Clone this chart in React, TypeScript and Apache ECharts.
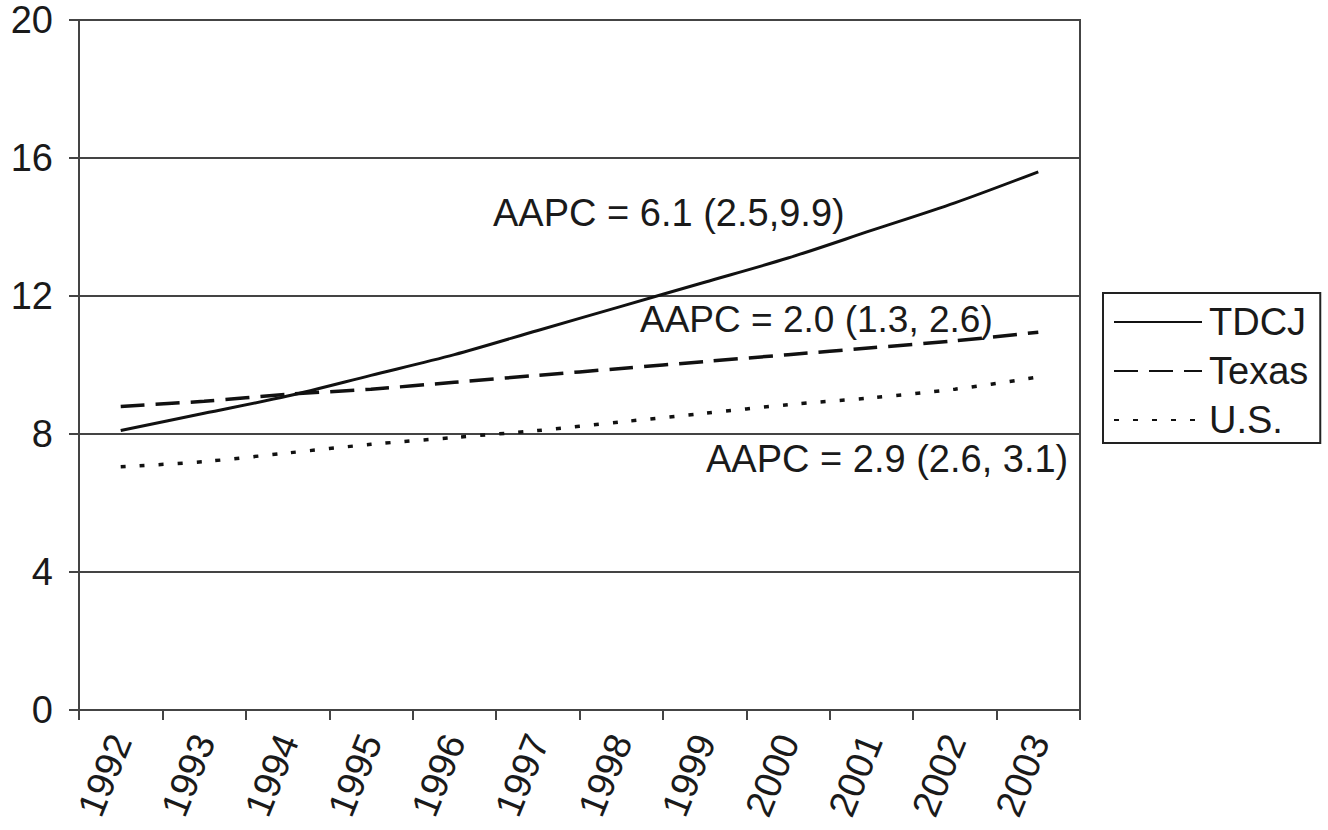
import React, { useEffect, useRef } from "react";
import * as echarts from "echarts";

const years = ["1992","1993","1994","1995","1996","1997","1998","1999","2000","2001","2002","2003"];
const tdcj = [8.1, 8.6, 9.1, 9.7, 10.3, 11.0, 11.7, 12.4, 13.1, 13.9, 14.7, 15.6];
const texas = [8.8, 8.95, 9.15, 9.3, 9.5, 9.7, 9.9, 10.1, 10.3, 10.5, 10.7, 10.95];
const us = [7.05, 7.2, 7.45, 7.7, 7.9, 8.1, 8.35, 8.6, 8.85, 9.05, 9.3, 9.65];
const seriesNames = ["TDCJ", "Texas", "U.S."];
const annotations = ["AAPC = 6.1 (2.5,9.9)", "AAPC = 2.0 (1.3, 2.6)", "AAPC = 2.9 (2.6, 3.1)"];

const FONT = "Liberation Sans, Arial, Helvetica, sans-serif";
const INK = "#1a1a1a";

export default function App() {
  const ref = useRef<HTMLDivElement>(null);
  useEffect(() => {
    if (!ref.current) return;
    const chart = echarts.init(ref.current, null, { renderer: "svg" });
    const fs = 38;
    chart.setOption({
      animation: false,
      backgroundColor: "#ffffff",
      textStyle: { fontFamily: FONT },
      grid: { left: 79, right: 248, top: 20, bottom: 120, show: true, borderColor: "#444", borderWidth: 2 },
      legend: {
        orient: "vertical",
        left: 1103,
        top: 293,
        width: 214,
        padding: [10, 12, 4, 10],
        itemWidth: 88,
        itemHeight: 20,
        itemGap: 11,
        borderColor: "#222",
        borderWidth: 2,
        data: seriesNames,
        itemStyle: { opacity: 0 },
        textStyle: { fontSize: fs, color: INK, fontFamily: FONT, padding: [0, 0, 0, 2] },
      },
      xAxis: {
        type: "category",
        data: years,
        boundaryGap: true,
        axisLine: { lineStyle: { color: "#444", width: 2 } },
        axisTick: { show: true, length: 10, lineStyle: { color: "#444", width: 2 } },
        axisLabel: { rotate: 68, fontSize: fs, color: INK, margin: 26, fontFamily: FONT },
      },
      yAxis: {
        type: "value",
        min: 0,
        max: 20,
        interval: 4,
        axisLine: { show: true, lineStyle: { color: "#444", width: 2 } },
        axisTick: { show: true, length: 10, lineStyle: { color: "#444", width: 2 } },
        axisLabel: { fontSize: fs, color: INK, margin: 26, fontFamily: FONT },
        splitLine: { show: true, lineStyle: { color: "#444", width: 2 } },
      },
      series: [
        {
          name: seriesNames[0], type: "line", data: tdcj, smooth: 0.3, symbol: "none",
          lineStyle: { color: "#111", width: 3, type: "solid" }, itemStyle: { color: "#111" },
        },
        {
          name: seriesNames[1], type: "line", data: texas, smooth: 0.3, symbol: "none",
          lineStyle: { color: "#111", width: 3.5, type: [24, 11] }, itemStyle: { color: "#111" },
        },
        {
          name: seriesNames[2], type: "line", data: us, smooth: 0.3, symbol: "none",
          lineStyle: { color: "#111", width: 3.5, type: [5, 14] }, itemStyle: { color: "#111" },
        },
      ],
      graphic: [
        { type: "text", left: 493, top: 194, style: { text: annotations[0], fontSize: fs, fill: INK, fontFamily: FONT } },
        { type: "text", left: 640, top: 301, style: { text: annotations[1], fontSize: 37, fill: INK, fontFamily: FONT } },
        { type: "text", left: 706, top: 440, style: { text: annotations[2], fontSize: fs, fill: INK, fontFamily: FONT } },
      ],
    });
    return () => chart.dispose();
  }, []);
  return <div ref={ref} style={{ position: "fixed", left: 0, top: 0, width: 1328, height: 830 }} />;
}
